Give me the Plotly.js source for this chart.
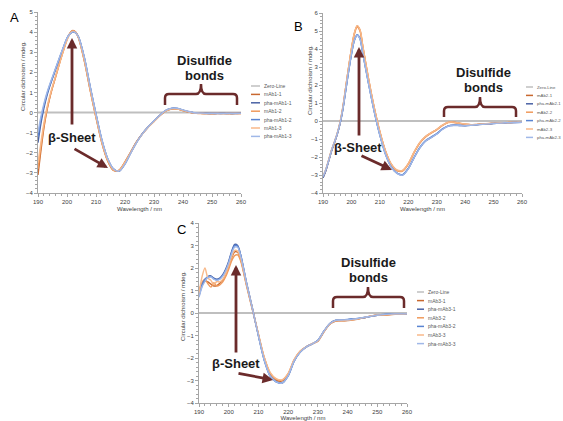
<!DOCTYPE html>
<html><head><meta charset="utf-8">
<script src="https://cdn.plot.ly/plotly-3.0.1.min.js"></script>
<style>html,body{margin:0;padding:0;background:#fff;}#chart{width:563px;height:421px;}</style>
</head><body><div id="chart"></div>
<script>
// ---------- data ----------
const wavelength = [190,191,192,193,194,195,196,197,198,199,200,201,202,203,204,206,208,210,212,214,216,218,220,222,224,226,228,230,232,234,236,238,240,242,244,246,248,250,252,254,256,258,260];
const zeroX = [190,260];
const zeroY = [0,0];

const namesA = ["Zero-Line","mAb1-1","pha-mAb1-1","mAb1-2","pha-mAb1-2","mAb1-3","pha-mAb1-3"];
const namesB = ["Zero-Line","mAb2-1","pha-mAb2-1","mAb2-2","pha-mAb2-2","mAb2-3","pha-mAb2-3"];
const namesC = ["Zero-Line","mAb3-1","pha-mAb3-1","mAb3-2","pha-mAb3-2","mAb3-3","pha-mAb3-3"];
const xTitle = "Wavelength / nm";
const yTitle = "Circular dichroism / mdeg.";

// Panel A
const mAb1_1 = [-3.10,-1.90,-0.80,0.05,0.70,1.25,1.75,2.25,2.75,3.20,3.65,3.95,4.08,4.00,3.70, 2.55,1.10,-0.25,-1.50,-2.40,-2.88,-2.86,-2.45,-1.95,-1.45,-1.05,-0.72,-0.43,-0.15,0.08,0.18,0.17,0.10,0.02,-0.03,-0.04,-0.05,-0.05,-0.04,-0.05,-0.04,-0.05,-0.04];
const pha1_1 = [-1.50,-0.55,0.20,0.80,1.28,1.70,2.12,2.52,2.92,3.32,3.68,3.90,4.00,3.96,3.74, 2.72,1.28,-0.08,-1.35,-2.28,-2.80,-2.92,-2.55,-2.00,-1.48,-1.06,-0.72,-0.42,-0.14,0.10,0.21,0.20,0.12,0.04,-0.02,-0.04,-0.04,-0.05,-0.04,-0.04,-0.05,-0.04,-0.04];
const mAb1_2 = [-2.80,-1.70,-0.70,0.10,0.72,1.25,1.72,2.22,2.72,3.18,3.62,3.93,4.06,4.00,3.72, 2.58,1.12,-0.22,-1.48,-2.38,-2.86,-2.87,-2.47,-1.97,-1.46,-1.06,-0.72,-0.44,-0.16,0.07,0.17,0.17,0.10,0.03,-0.02,-0.05,-0.04,-0.06,-0.05,-0.04,-0.06,-0.04,-0.05];
const pha1_2 = [-1.20,-0.35,0.32,0.88,1.33,1.74,2.15,2.55,2.95,3.34,3.70,3.92,4.02,3.97,3.75, 2.70,1.26,-0.10,-1.37,-2.30,-2.82,-2.90,-2.53,-1.99,-1.47,-1.05,-0.71,-0.42,-0.13,0.10,0.20,0.20,0.12,0.04,-0.02,-0.03,-0.05,-0.04,-0.05,-0.04,-0.04,-0.05,-0.04];
const mAb1_3 = [-2.50,-1.50,-0.55,0.20,0.80,1.30,1.78,2.25,2.72,3.18,3.60,3.92,4.05,3.98,3.70, 2.60,1.15,-0.20,-1.45,-2.35,-2.84,-2.88,-2.48,-1.98,-1.47,-1.07,-0.73,-0.44,-0.15,0.08,0.19,0.18,0.11,0.03,-0.03,-0.04,-0.06,-0.05,-0.05,-0.06,-0.04,-0.05,-0.06];
const pha1_3 = [-1.00,-0.20,0.42,0.95,1.38,1.78,2.18,2.58,2.97,3.35,3.70,3.91,4.01,3.97,3.76, 2.74,1.30,-0.06,-1.33,-2.27,-2.79,-2.91,-2.56,-2.01,-1.49,-1.06,-0.71,-0.41,-0.13,0.11,0.21,0.21,0.13,0.05,-0.01,-0.03,-0.04,-0.04,-0.04,-0.05,-0.04,-0.04,-0.04];

// Panel B
const mAb2_1 = [-3.15,-2.75,-2.20,-1.65,-1.20,-0.72,-0.10,0.75,1.85,2.95,4.00,4.85,5.28,5.05,4.15, 2.35,0.75,-0.60,-1.68,-2.40,-2.74,-2.76,-2.38,-1.75,-1.22,-0.88,-0.66,-0.48,-0.24,-0.08,-0.07,-0.12,-0.18,-0.21,-0.20,-0.17,-0.15,-0.13,-0.11,-0.10,-0.08,-0.07,-0.07];
const pha2_1 = [-3.15,-2.76,-2.22,-1.67,-1.22,-0.75,-0.15,0.65,1.70,2.75,3.70,4.45,4.78,4.58,3.75, 2.10,0.55,-0.78,-1.85,-2.55,-2.90,-3.00,-2.65,-2.05,-1.50,-1.12,-0.92,-0.72,-0.46,-0.28,-0.24,-0.25,-0.26,-0.24,-0.21,-0.18,-0.16,-0.14,-0.12,-0.10,-0.09,-0.08,-0.07];
const mAb2_2 = [-3.10,-2.70,-2.17,-1.62,-1.18,-0.70,-0.08,0.78,1.88,2.97,3.98,4.80,5.22,5.00,4.12, 2.33,0.74,-0.62,-1.70,-2.42,-2.76,-2.78,-2.40,-1.77,-1.24,-0.90,-0.67,-0.49,-0.25,-0.09,-0.08,-0.13,-0.19,-0.21,-0.19,-0.17,-0.15,-0.12,-0.11,-0.09,-0.08,-0.07,-0.06];
const pha2_2 = [-3.12,-2.73,-2.20,-1.65,-1.20,-0.73,-0.13,0.67,1.72,2.77,3.72,4.48,4.80,4.60,3.78, 2.12,0.57,-0.76,-1.83,-2.53,-2.89,-2.98,-2.63,-2.03,-1.48,-1.10,-0.90,-0.70,-0.44,-0.27,-0.23,-0.24,-0.25,-0.23,-0.20,-0.18,-0.15,-0.13,-0.11,-0.10,-0.08,-0.07,-0.07];
const mAb2_3 = [-3.05,-2.68,-2.15,-1.60,-1.16,-0.68,-0.05,0.80,1.90,3.00,4.02,4.88,5.30,5.08,4.18, 2.38,0.77,-0.58,-1.66,-2.38,-2.72,-2.74,-2.36,-1.73,-1.20,-0.86,-0.65,-0.47,-0.23,-0.07,-0.06,-0.12,-0.17,-0.20,-0.19,-0.16,-0.14,-0.12,-0.10,-0.09,-0.07,-0.06,-0.06];
const pha2_3 = [-3.08,-2.70,-2.18,-1.63,-1.18,-0.71,-0.11,0.69,1.74,2.78,3.72,4.47,4.76,4.56,3.74, 2.08,0.54,-0.79,-1.86,-2.56,-2.91,-3.01,-2.66,-2.06,-1.51,-1.13,-0.93,-0.73,-0.47,-0.29,-0.25,-0.26,-0.26,-0.24,-0.21,-0.19,-0.16,-0.14,-0.12,-0.10,-0.09,-0.08,-0.07];

// Panel C
const mAb3_1 = [1.00,1.30,1.42,1.38,1.28,1.20,1.22,1.32,1.45,1.70,2.05,2.45,2.72,2.70,2.40, 1.25,0.15,-0.95,-2.00,-2.70,-2.98,-3.02,-2.72,-2.10,-1.72,-1.52,-1.38,-1.25,-0.85,-0.50,-0.36,-0.35,-0.33,-0.30,-0.26,-0.20,-0.14,-0.10,-0.10,-0.08,-0.06,-0.05,-0.05];
const pha3_1 = [0.75,1.20,1.45,1.62,1.65,1.55,1.50,1.55,1.70,1.95,2.30,2.75,3.05,3.00,2.60, 1.35,0.20,-1.00,-2.10,-2.80,-3.05,-3.12,-2.80,-2.15,-1.75,-1.52,-1.38,-1.22,-0.82,-0.48,-0.33,-0.32,-0.30,-0.27,-0.24,-0.20,-0.15,-0.10,-0.07,-0.05,-0.04,-0.04,-0.05];
const mAb3_2 = [0.95,1.35,1.50,1.30,1.15,1.35,1.20,1.25,1.38,1.62,1.95,2.32,2.55,2.58,2.32, 1.20,0.12,-0.97,-2.02,-2.68,-2.95,-2.98,-2.70,-2.08,-1.70,-1.50,-1.37,-1.24,-0.84,-0.50,-0.35,-0.34,-0.32,-0.29,-0.25,-0.19,-0.13,-0.10,-0.09,-0.07,-0.06,-0.05,-0.04];
const pha3_2 = [0.80,1.25,1.50,1.60,1.62,1.52,1.48,1.52,1.66,1.90,2.25,2.70,3.00,2.97,2.58, 1.33,0.18,-1.02,-2.12,-2.82,-3.07,-3.10,-2.78,-2.13,-1.74,-1.51,-1.37,-1.21,-0.81,-0.47,-0.32,-0.31,-0.29,-0.26,-0.23,-0.19,-0.14,-0.09,-0.06,-0.05,-0.04,-0.03,-0.04];
const mAb3_3 = [0.85,1.60,2.00,1.55,1.45,1.25,1.40,1.38,1.50,1.75,2.10,2.50,2.78,2.75,2.45, 1.28,0.18,-0.93,-1.98,-2.65,-2.92,-2.97,-2.68,-2.07,-1.70,-1.51,-1.37,-1.24,-0.83,-0.49,-0.34,-0.33,-0.32,-0.29,-0.25,-0.19,-0.13,-0.09,-0.08,-0.07,-0.05,-0.05,-0.04];
const pha3_3 = [0.70,1.15,1.40,1.58,1.60,1.50,1.45,1.50,1.64,1.88,2.22,2.65,2.93,2.92,2.55, 1.32,0.17,-1.01,-2.11,-2.81,-3.06,-3.11,-2.79,-2.14,-1.75,-1.52,-1.38,-1.22,-0.82,-0.48,-0.33,-0.31,-0.30,-0.27,-0.23,-0.19,-0.14,-0.10,-0.07,-0.05,-0.04,-0.04,-0.04];

const xTickVals = [190,200,210,220,230,240,250,260];

// ---------- styling ----------
const W = 563, H = 421;
const px = v => v / W;
const py = v => 1 - v / H;
const FONT = "Liberation Sans, Arial, sans-serif";
const zeroColor = "#BFBFBF";
const seriesColors = ["#C8682F","#4A62A5","#F09A5C","#5A84D2","#F8B98A","#A0B8E8"];
const arrowColor = "#6B2B2B";

const panels = [
  {xa:"x", ya:"y", names:namesA, series:[mAb1_1,pha1_1,mAb1_2,pha1_2,mAb1_3,pha1_3],
   dom:{l:38,r:241,t:12,b:193}, yr:[-4,5], yt:{x:23,y:76},
   leg:{x1:251,x2:260,tx:262,y0:86,dy:8.4,fs:5},
   label:{x:15,y:17,t:"A"},
   dis:{x:204,y1:60.5,y2:75}, brace:{L:165,R:237,C:201,top:94,foot:105,peak:84},
   beta:{x:72,y:137}, vArrow:{x:72,head:38,tail:126}, dArrow:{hx:108,hy:168,tx:73,ty:148}},
  {xa:"x2", ya:"y2", names:namesB, series:[mAb2_1,pha2_1,mAb2_2,pha2_2,mAb2_3,pha2_3],
   dom:{l:323,r:522,t:13,b:193}, yr:[-4,6], yt:{x:310,y:80},
   leg:{x1:526,x2:533,tx:535,y0:87,dy:8.4,fs:4.3},
   label:{x:298,y:27,t:"B"},
   dis:{x:483,y1:72.5,y2:87}, brace:{L:444,R:516,C:480,top:107,foot:117,peak:97},
   beta:{x:358,y:147}, vArrow:{x:359,head:47,tail:137}, dArrow:{hx:392,hy:170,tx:360,ty:155}},
  {xa:"x3", ya:"y3", names:namesC, series:[mAb3_1,pha3_1,mAb3_2,pha3_2,mAb3_3,pha3_3],
   dom:{l:199,r:407,t:223,b:403}, yr:[-4,4], yt:{x:183,y:306},
   leg:{x1:417,x2:424,tx:426,y0:292,dy:8.6,fs:5},
   label:{x:181,y:229,t:"C"},
   dis:{x:368,y1:262.5,y2:277}, brace:{L:333,R:404,C:368,top:297,foot:308,peak:287},
   beta:{x:236,y:363}, vArrow:{x:236,head:265,tail:354}, dArrow:{hx:273,hy:380,tx:237,ty:373}}
];

const data = [];
const shapes = [];
const annotations = [];
const layout = {
  width: W, height: H, margin:{l:0,r:0,t:0,b:0},
  paper_bgcolor:"#fff", plot_bgcolor:"rgba(0,0,0,0)",
  showlegend:false, font:{family:FONT, color:"#404040"},
  shapes, annotations
};

function bracePath(b){
  const r = 4, s = 5;
  const pts = [
    `M${px(b.L)},${py(b.foot)}`,
    `L${px(b.L)},${py(b.top + r)}`,
    `Q${px(b.L)},${py(b.top)} ${px(b.L + r)},${py(b.top)}`,
    `L${px(b.C - s)},${py(b.top)}`,
    `Q${px(b.C)},${py(b.top)} ${px(b.C)},${py(b.peak)}`,
    `Q${px(b.C)},${py(b.top)} ${px(b.C + s)},${py(b.top)}`,
    `L${px(b.R - r)},${py(b.top)}`,
    `Q${px(b.R)},${py(b.top)} ${px(b.R)},${py(b.top + r)}`,
    `L${px(b.R)},${py(b.foot)}`
  ];
  return pts.join(" ");
}

panels.forEach((p, i) => {
  const sfx = i === 0 ? "" : String(i + 1);
  data.push({x:zeroX, y:zeroY, xaxis:p.xa, yaxis:p.ya, mode:"lines", name:p.names[0],
             line:{color:zeroColor, width:2}, hoverinfo:"skip"});
  p.series.forEach((s, k) => {
    data.push({x:wavelength, y:s, xaxis:p.xa, yaxis:p.ya, mode:"lines", name:p.names[k+1],
               line:{color:seriesColors[k], width:1.4, shape:"spline", smoothing:0.8}});
  });
  const axCommon = {showline:true, linecolor:"#A6A6A6", linewidth:1, ticks:"outside", ticklen:3,
    tickcolor:"#A6A6A6", showgrid:false, zeroline:false, tickfont:{size:6, color:"#404040", family:FONT}};
  layout["xaxis"+sfx] = Object.assign({}, axCommon, {
    domain:[px(p.dom.l), px(p.dom.r)], range:[190,260], anchor:"y"+sfx,
    tickvals:xTickVals, minor:{ticks:"outside", dtick:2, tick0:190, ticklen:2, tickcolor:"#A6A6A6"},
    title:{text:xTitle, font:{size:6, color:"#404040"}, standoff:2}
  });
  layout["yaxis"+sfx] = Object.assign({}, axCommon, {
    domain:[py(p.dom.b), py(p.dom.t)], range:p.yr, anchor:"x"+sfx, dtick:1,
    minor:{ticks:"outside", dtick:0.2, ticklen:2, tickcolor:"#A6A6A6"}
  });
  // y-axis title placed beside the tick labels
  annotations.push({xref:"paper", yref:"paper", x:px(p.yt.x), y:py(p.yt.y), text:yTitle,
    textangle:-90, showarrow:false, xanchor:"center", yanchor:"middle",
    font:{size:6, color:"#404040", family:FONT}});
  p.names.forEach((nm, k) => {
    const yy = p.leg.y0 + k * p.leg.dy;
    const col = k === 0 ? zeroColor : seriesColors[k-1];
    shapes.push({type:"line", xref:"paper", yref:"paper", x0:px(p.leg.x1), x1:px(p.leg.x2),
                 y0:py(yy), y1:py(yy), line:{color:col, width:1.5}});
    annotations.push({xref:"paper", yref:"paper", x:px(p.leg.tx), y:py(yy), text:nm,
                 showarrow:false, xanchor:"left", yanchor:"middle",
                 font:{size:p.leg.fs, color:"#595959", family:FONT}});
  });
  annotations.push({xref:"paper", yref:"paper", x:px(p.label.x), y:py(p.label.y), text:p.label.t,
    showarrow:false, xanchor:"center", yanchor:"middle", font:{size:13, color:"#000", family:FONT}});
  annotations.push({xref:"paper", yref:"paper", x:px(p.dis.x), y:py(p.dis.y1), text:"<b>Disulfide</b>",
    showarrow:false, xanchor:"center", yanchor:"middle", font:{size:13, color:"#1A1A1A", family:FONT}});
  annotations.push({xref:"paper", yref:"paper", x:px(p.dis.x), y:py(p.dis.y2), text:"<b>bonds</b>",
    showarrow:false, xanchor:"center", yanchor:"middle", font:{size:13, color:"#1A1A1A", family:FONT}});
  shapes.push({type:"path", xref:"paper", yref:"paper", path:bracePath(p.brace),
    line:{color:arrowColor, width:2.5}});
  annotations.push({xref:"paper", yref:"paper", x:px(p.beta.x), y:py(p.beta.y), text:"<b>β-Sheet</b>",
    showarrow:false, xanchor:"center", yanchor:"middle", font:{size:13, color:"#1A1A1A", family:FONT}});
  annotations.push({xref:"paper", yref:"paper", x:px(p.vArrow.x), y:py(p.vArrow.head), text:"",
    showarrow:true, arrowhead:2, arrowsize:0.75, arrowwidth:2.8, arrowcolor:arrowColor,
    ax:0, ay:p.vArrow.tail - p.vArrow.head, standoff:0, startstandoff:0});
  annotations.push({xref:"paper", yref:"paper", x:px(p.dArrow.hx), y:py(p.dArrow.hy), text:"",
    showarrow:true, arrowhead:2, arrowsize:0.75, arrowwidth:2.8, arrowcolor:arrowColor,
    ax:p.dArrow.tx - p.dArrow.hx, ay:p.dArrow.ty - p.dArrow.hy, standoff:0, startstandoff:0});
});

Plotly.newPlot("chart", data, layout, {staticPlot:true, displayModeBar:false});
</script>
</body></html>
